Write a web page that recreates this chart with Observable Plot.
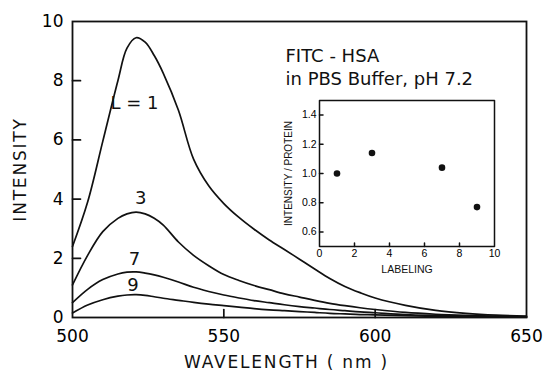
<!DOCTYPE html>
<html>
<head>
<meta charset="utf-8">
<script src="https://cdn.jsdelivr.net/npm/d3@7"></script>
<script src="https://cdn.jsdelivr.net/npm/@observablehq/plot@0.6"></script>
<style>
  html, body { margin: 0; padding: 0; background: #fff; }
  #wrap { position: relative; width: 547px; height: 381px; overflow: hidden; background: #fff; }
  #main { position: absolute; left: 0; top: 0; }
  #inset { position: absolute; left: 262px; top: 90px; }
</style>
</head>
<body>
<div id="wrap"><div id="main"></div><div id="inset"></div></div>
<script>
// ---- data ----
const wavelength = [500,505,510,515,518,521,524,527,530,535,540,545,550,555,560,565,570,575,580,585,590,595,600,610,620,630,640,650];
const intensityL1 = [2.4,3.9,5.95,8.0,9.1,9.45,9.3,8.85,8.25,7.0,5.35,4.45,3.85,3.38,2.98,2.62,2.3,1.97,1.64,1.32,1.05,0.84,0.66,0.41,0.24,0.14,0.08,0.05];
const intensityL3 = [1.1,2.1,2.9,3.35,3.5,3.56,3.5,3.35,3.12,2.55,2.1,1.75,1.45,1.25,1.08,0.94,0.8,0.69,0.58,0.48,0.4,0.33,0.27,0.17,0.11,0.07,0.04,0.03];
const intensityL7 = [0.5,0.95,1.28,1.47,1.53,1.54,1.5,1.44,1.36,1.2,1.02,0.88,0.76,0.66,0.57,0.5,0.43,0.37,0.32,0.27,0.23,0.19,0.16,0.1,0.07,0.05,0.03,0.02];
const intensityL9 = [0.15,0.42,0.6,0.72,0.76,0.77,0.75,0.7,0.65,0.58,0.51,0.45,0.4,0.35,0.3,0.26,0.23,0.2,0.17,0.14,0.12,0.1,0.09,0.06,0.04,0.03,0.02,0.01];
const seriesNames = ["L = 1", "3", "7", "9"];
const labelWavelength = [520.5, 522.5, 520.5, 520];
const labelIntensity = [7.25, 4.02, 1.98, 1.08];
const xDomain = [500, 650];
const yDomain = [0, 10];
const xTickLabels = [500, 550, 600, 650];
const xTickMarks = [550, 600];
const yTickLabels = [0, 2, 4, 6, 8, 10];
const yTickMarks = [2, 4, 6, 8];

const insetLabeling = [1, 3, 7, 9];
const insetRatio = [1.0, 1.14, 1.04, 0.77];
const insetXDomain = [0, 10];
const insetYDomain = [0.5, 1.5];
const insetXTicks = [0, 2, 4, 6, 8, 10];
const insetXTickMarks = [2, 4, 6, 8];
const insetYTicks = [0.6, 0.8, 1.0, 1.2, 1.4];

const annotation = "FITC - HSA\nin PBS Buffer, pH 7.2";
const xTitle = "WAVELENGTH ( nm )";
const yTitle = "INTENSITY";
const insetXTitle = "LABELING";
const insetYTitle = "INTENSITY / PROTEIN";

// ---- layout ----
const M = {w: 547, h: 381, l: 72, r: 21, t: 21, b: 64};
const IN = {w: 250, h: 200, l: 57, r: 18, t: 10, b: 44};
const INK = "#111";

// ---- build tidy tables ----
const allSeries = [intensityL1, intensityL3, intensityL7, intensityL9];
const rows = allSeries.flatMap((vals, s) => vals.map((v, i) => ({series: seriesNames[s], wl: wavelength[i], I: v})));
const labels = seriesNames.map((n, i) => ({text: n, wl: labelWavelength[i], I: labelIntensity[i]}));
const insetPts = insetLabeling.map((l, i) => ({lab: l, ratio: insetRatio[i]}));
const [ix0, ix1] = insetXDomain, [iy0, iy1] = insetYDomain;
const insetBox = [[ix0, iy0], [ix1, iy0], [ix1, iy1], [ix0, iy1], [ix0, iy0]];

// inward tick segments: length given in pixels, converted through the scale spans
function yTickSegs(ticks, xd, plotW, px) {
  const len = (xd[1] - xd[0]) * px / plotW;
  return ticks.flatMap(t => [{k: t, x: xd[0], y: t}, {k: t, x: xd[0] + len, y: t}]);
}
function xTickSegs(ticks, yd, plotH, px) {
  const len = (yd[1] - yd[0]) * px / plotH;
  return ticks.flatMap(t => [{k: t, x: t, y: yd[0]}, {k: t, x: t, y: yd[0] + len}]);
}
const mainW = M.w - M.l - M.r, mainH = M.h - M.t - M.b;
const inW = IN.w - IN.l - IN.r, inH = IN.h - IN.t - IN.b;
const mainTicks = [...yTickSegs(yTickMarks, xDomain, mainW, 8).map(d => ({...d, k: "y" + d.k})),
                   ...xTickSegs(xTickMarks, yDomain, mainH, 8).map(d => ({...d, k: "x" + d.k}))];
const insetTicks = [...yTickSegs(insetYTicks, insetXDomain, inW, 3.5).map(d => ({...d, k: "y" + d.k})),
                    ...xTickSegs(insetXTickMarks, insetYDomain, inH, 3.5).map(d => ({...d, k: "x" + d.k}))];

const main = Plot.plot({
  width: M.w, height: M.h,
  marginLeft: M.l, marginRight: M.r, marginTop: M.t, marginBottom: M.b,
  style: {fontFamily: "DejaVu Sans", fontSize: "17px", background: "#fff"},
  x: {domain: xDomain},
  y: {domain: yDomain},
  marks: [
    Plot.line(rows, {x: "wl", y: "I", z: "series", stroke: INK, strokeWidth: 1.7, curve: "catmull-rom"}),
    Plot.line(mainTicks, {x: "x", y: "y", z: "k", stroke: INK, strokeWidth: 1.7}),
    Plot.axisY(yTickLabels, {tickSize: 0, tickPadding: 9, label: null, fontSize: 17}),
    Plot.axisX(xTickLabels, {tickSize: 0, tickPadding: 12, label: null, fontSize: 17}),
    Plot.frame({stroke: INK, strokeWidth: 1.8}),
    Plot.text(labels, {x: "wl", y: "I", text: "text", fontSize: 18, fill: INK}),
    Plot.text([annotation], {frameAnchor: "top-left", dx: 213, dy: 24, textAnchor: "start", lineAnchor: "top", fontSize: 18, lineHeight: 1.28, fill: INK}),
    Plot.text([xTitle], {frameAnchor: "bottom", textAnchor: "middle", dx: -13, dy: 50, fontSize: 17, fill: INK}),
    Plot.text([yTitle], {frameAnchor: "left", textAnchor: "middle", dx: -52, rotate: -90, fontSize: 17, fill: INK})
  ]
});
d3.select(main).selectAll("text").filter(function() { return this.textContent === xTitle || this.textContent === yTitle; })
  .style("letter-spacing", "1.8px");
document.getElementById("main").appendChild(main);

const inset = Plot.plot({
  width: IN.w, height: IN.h,
  marginLeft: IN.l, marginRight: IN.r, marginTop: IN.t, marginBottom: IN.b,
  style: {fontFamily: "Liberation Sans", fontSize: "10px", background: "transparent", overflow: "visible"},
  x: {domain: insetXDomain},
  y: {domain: insetYDomain},
  marks: [
    Plot.line(insetBox, {x: d => d[0], y: d => d[1], stroke: INK, strokeWidth: 1.5}),
    Plot.line(insetTicks, {x: "x", y: "y", z: "k", stroke: INK, strokeWidth: 1.5}),
    Plot.axisY(insetYTicks, {tickSize: 0, tickPadding: 3, label: null, tickFormat: d3.format(".1f"), fontSize: 10.5}),
    Plot.axisX(insetXTicks, {tickSize: 0, tickPadding: 3, label: null, fontSize: 10.5}),
    Plot.dot(insetPts, {x: "lab", y: "ratio", r: 3.3, fill: INK}),
    Plot.text([insetXTitle], {frameAnchor: "bottom", textAnchor: "middle", dy: 26, fontSize: 10.5, fill: INK}),
    Plot.text([insetYTitle], {frameAnchor: "left", textAnchor: "middle", dx: -31, rotate: -90, fontSize: 10, fill: INK})
  ]
});
document.getElementById("inset").appendChild(inset);
</script>
</body>
</html>
